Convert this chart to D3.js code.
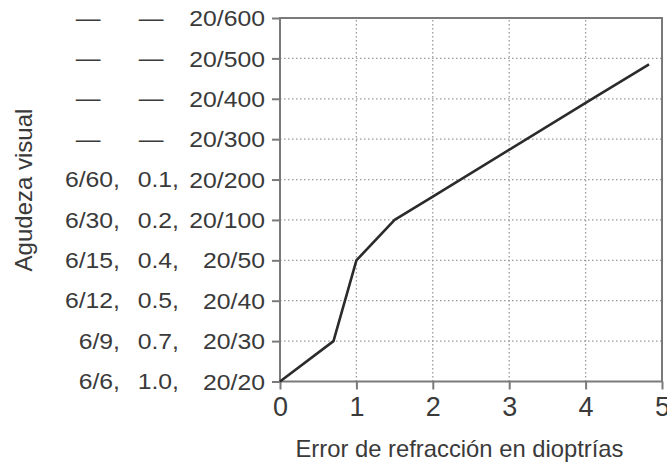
<!DOCTYPE html>
<html>
<head>
<meta charset="utf-8">
<script src="https://cdn.jsdelivr.net/npm/d3@7"></script>
<style>
  html, body { margin: 0; padding: 0; background: #fff; }
  svg text { font-family: "Liberation Sans", Arial, sans-serif; fill: #3a3a3a; }
</style>
</head>
<body>
<svg id="chart" width="667" height="466"></svg>
<script>
// Snellen acuity levels (Y axis categories, bottom to top)
const snellenFeet = ["20/20", "20/30", "20/40", "20/50", "20/100", "20/200", "20/300", "20/400", "20/500", "20/600"];
const snellenMeters = ["6/6,", "6/9,", "6/12,", "6/15,", "6/30,", "6/60,", "—", "—", "—", "—"];
const decimalAcuity = ["1.0,", "0.7,", "0.5,", "0.4,", "0.2,", "0.1,", "—", "—", "—", "—"];

// Refractive error (diopters) and resulting acuity level (position on the acuity scale)
const errorDiopters = [0, 0.7, 1.0, 1.5, 2.0, 4.07, 4.83];
const acuityLevel = [0, 1, 3, 4, 4.58, 6.98, 7.85];

const xTicks = [0, 1, 2, 3, 4, 5];

const svg = d3.select("#chart");
const plotLeft = 280, plotTop = 18, plotRight = 662, plotBottom = 381.5;

const x = d3.scaleLinear().domain([0, 5]).range([plotLeft, plotRight]);
const y = d3.scaleLinear().domain([0, snellenFeet.length - 1]).range([plotBottom, plotTop]);

const gridColor = "#9a9a9a";
const frameColor = "#7a7a7a";
const textColor = "#3a3a3a";
const labelSize = 22.5, stretch = 1.1;

// widen a text horizontally around its anchor point
function widen(sel) {
  sel.each(function () {
    const t = d3.select(this);
    const tx = +t.attr("x") || 0, ty = +t.attr("y") || 0;
    t.attr("x", 0).attr("y", 0)
     .attr("transform", `translate(${tx},${ty}) scale(${stretch},1)`);
  });
}

// dotted grid
const grid = svg.append("g");
grid.selectAll("line.h").data(d3.range(1, snellenFeet.length - 1)).join("line")
  .attr("x1", x(0)).attr("x2", x(5))
  .attr("y1", d => y(d)).attr("y2", d => y(d))
  .attr("stroke", gridColor).attr("stroke-width", 1.3)
  .attr("stroke-dasharray", "1.5,2.5");
grid.selectAll("line.v").data([1, 2, 3, 4]).join("line")
  .attr("x1", d => x(d)).attr("x2", d => x(d))
  .attr("y1", y(0)).attr("y2", y(snellenFeet.length - 1))
  .attr("stroke", gridColor).attr("stroke-width", 1.3)
  .attr("stroke-dasharray", "1.5,2.5");

// frame
svg.append("rect")
  .attr("x", x(0)).attr("y", y(snellenFeet.length - 1))
  .attr("width", x(5) - x(0)).attr("height", y(0) - y(snellenFeet.length - 1))
  .attr("fill", "none").attr("stroke", frameColor).attr("stroke-width", 2);

// Y axis (ticks + feet labels)
const yAxis = d3.axisLeft(y)
  .tickValues(d3.range(snellenFeet.length))
  .tickFormat(i => snellenFeet[i])
  .tickSize(8).tickPadding(7);
const gy = svg.append("g").attr("transform", `translate(${x(0)},0)`).call(yAxis);
gy.select(".domain").remove();
gy.selectAll(".tick line").attr("stroke", frameColor).attr("stroke-width", 2);
gy.selectAll(".tick text").attr("font-size", labelSize).attr("fill", textColor)
  .attr("font-family", "Liberation Sans, Arial, sans-serif")
  .attr("dy", "0.34em").call(widen);

// extra label columns
function column(labels, xEnd, xDash) {
  svg.append("g").selectAll("text").data(d3.range(labels.length)).join("text")
    .attr("x", i => labels[i] === "—" ? xDash : xEnd)
    .attr("y", i => y(i)).attr("dy", "0.34em")
    .attr("text-anchor", i => labels[i] === "—" ? "middle" : "end")
    .attr("font-size", labelSize)
    .text(i => labels[i])
    .call(widen);
}
column(decimalAcuity, 179, 151);
column(snellenMeters, 120, 88);

// X axis
const xAxis = d3.axisBottom(x).tickValues(xTicks).tickFormat(d3.format("d"))
  .tickSize(8).tickPadding(7);
const gx = svg.append("g").attr("transform", `translate(0,${y(0)})`).call(xAxis);
gx.select(".domain").remove();
gx.selectAll(".tick line").attr("stroke", frameColor).attr("stroke-width", 2);
gx.selectAll(".tick text").attr("font-size", 27).attr("fill", textColor)
  .attr("font-family", "Liberation Sans, Arial, sans-serif");

// axis titles
svg.append("text")
  .attr("x", 459.5).attr("y", 456.5)
  .attr("text-anchor", "middle").attr("font-size", 23.8)
  .text("Error de refracción en dioptrías");
svg.append("text")
  .attr("transform", "translate(32,190) rotate(-90)")
  .attr("text-anchor", "middle").attr("font-size", 24)
  .text("Agudeza visual");

// curve
const line = d3.line().x(d => x(d[0])).y(d => y(d[1]));
svg.append("path")
  .datum(d3.zip(errorDiopters, acuityLevel))
  .attr("d", line)
  .attr("fill", "none").attr("stroke", "#2b2b2b").attr("stroke-width", 2.6)
  .attr("stroke-linejoin", "round");
</script>
</body>
</html>
